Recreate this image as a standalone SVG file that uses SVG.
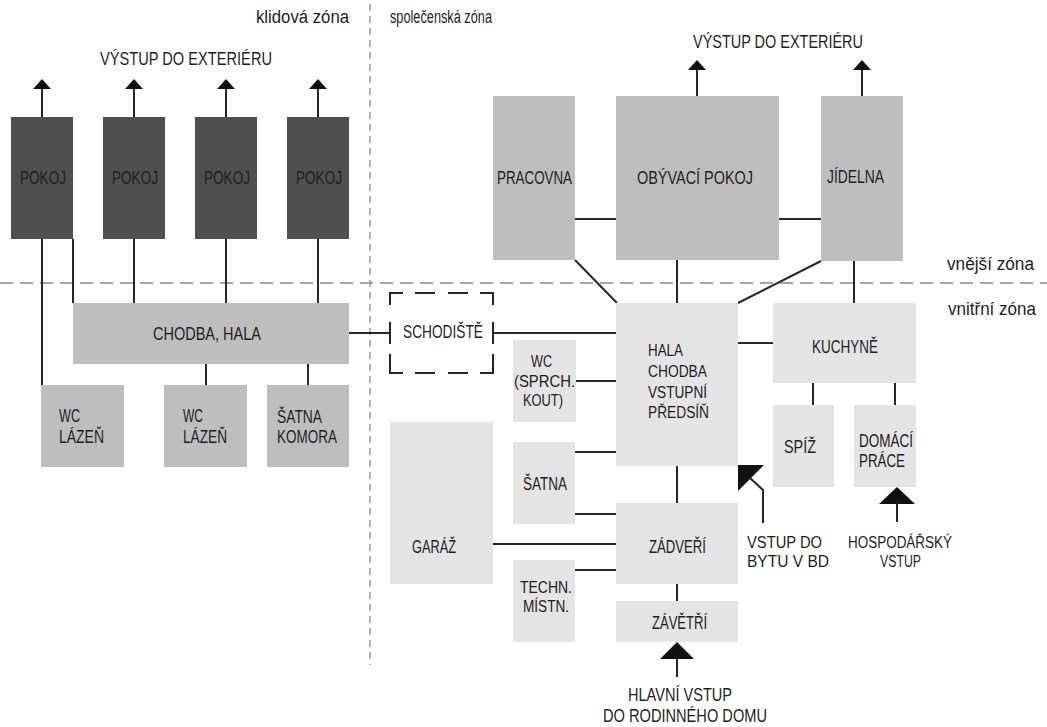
<svg xmlns="http://www.w3.org/2000/svg" width="1047" height="727" viewBox="0 0 1047 727">
<style>
text{font-family:"Liberation Sans",Arial,sans-serif;font-size:18.5px;fill:#1e1e1e}
.z{font-size:18px}
.s{font-size:16px}
.dark{fill:#4f4f4f}
.mid{fill:#bebebe}
.light{fill:#e4e4e4}
.c{stroke:#262626;stroke-width:2;fill:none}
.arr{fill:#111}
.zone{stroke:#a6a6a6;stroke-width:2;stroke-dasharray:13 7;fill:none}
.zonev{stroke:#9a9a9a;stroke-width:1.5;stroke-dasharray:7 5;fill:none}
.dash{stroke:#262626;stroke-width:2;fill:none}
</style>
<rect width="1047" height="727" fill="#fff"/>

<g id="zones">
<line class="zone" x1="0" y1="283" x2="1047" y2="283"/>
<line class="zonev" x1="370" y1="4" x2="370" y2="665"/>
<text class="z" x="256" y="23" textLength="93" lengthAdjust="spacingAndGlyphs">klidová  zóna</text>
<text class="z" x="390" y="23" textLength="102" lengthAdjust="spacingAndGlyphs">společenská  zóna</text>
<text class="z" x="947" y="270" textLength="87" lengthAdjust="spacingAndGlyphs">vnější  zóna</text>
<text class="z" x="948" y="315" textLength="88" lengthAdjust="spacingAndGlyphs">vnitřní  zóna</text>
<text x="100" y="65" textLength="172" lengthAdjust="spacingAndGlyphs">VÝSTUP  DO  EXTERIÉRU</text>
<text x="693" y="48" textLength="170" lengthAdjust="spacingAndGlyphs">VÝSTUP  DO  EXTERIÉRU</text>
</g>

<g id="connectors">
<line class="c" x1="42" y1="88" x2="42" y2="117"/>
<polygon class="arr" points="42,79 51,89 33,89"/>
<line class="c" x1="134" y1="88" x2="134" y2="117"/>
<polygon class="arr" points="134,79 143,89 125,89"/>
<line class="c" x1="226" y1="88" x2="226" y2="117"/>
<polygon class="arr" points="226,79 235,89 217,89"/>
<line class="c" x1="318" y1="88" x2="318" y2="117"/>
<polygon class="arr" points="318,79 327,89 309,89"/>
<line class="c" x1="697" y1="68" x2="697" y2="96"/>
<polygon class="arr" points="697,60 706,70 688,70"/>
<line class="c" x1="862" y1="68" x2="862" y2="96"/>
<polygon class="arr" points="862,60 871,70 853,70"/>
<line class="c" x1="42" y1="239" x2="42" y2="385"/>
<line class="c" x1="73" y1="239" x2="73" y2="303"/>
<line class="c" x1="134" y1="239" x2="134" y2="303"/>
<line class="c" x1="226" y1="239" x2="226" y2="303"/>
<line class="c" x1="318" y1="239" x2="318" y2="303"/>
<line class="c" x1="206" y1="364" x2="206" y2="385"/>
<line class="c" x1="308" y1="364" x2="308" y2="385"/>
<line class="c" x1="349" y1="333" x2="390" y2="333"/>
<line class="c" x1="493" y1="333" x2="616" y2="333"/>
<line class="c" x1="575" y1="219" x2="616" y2="219"/>
<line class="c" x1="779" y1="219" x2="821" y2="219"/>
<line class="c" x1="575" y1="260" x2="617" y2="303"/>
<line class="c" x1="677" y1="260" x2="677" y2="303"/>
<line class="c" x1="821" y1="261" x2="738" y2="303"/>
<line class="c" x1="854" y1="261" x2="854" y2="303"/>
<line class="c" x1="738" y1="343" x2="773" y2="343"/>
<line class="c" x1="813" y1="383" x2="813" y2="405"/>
<line class="c" x1="895" y1="383" x2="895" y2="405"/>
<line class="c" x1="576" y1="381" x2="616" y2="381"/>
<line class="c" x1="575" y1="452" x2="616" y2="452"/>
<line class="c" x1="575" y1="514" x2="616" y2="514"/>
<line class="c" x1="493" y1="544" x2="616" y2="544"/>
<line class="c" x1="575" y1="570" x2="616" y2="570"/>
<line class="c" x1="677" y1="466" x2="677" y2="503"/>
<line class="c" x1="677" y1="584" x2="677" y2="601"/>
<polygon class="arr" points="677,642 694,659 660,659"/>
<line class="c" x1="677" y1="658" x2="677" y2="677"/>
<polygon class="arr" points="738,465 764,465 738,491"/>
<polyline class="c" points="750,478 763,490 763,523"/>
<polygon class="arr" points="897,487 915,504 879,504"/>
<line class="c" x1="897" y1="503" x2="897" y2="522"/>
</g>

<g id="pokoj1"><rect class="dark" x="11" y="117" width="62" height="122"/><text x="20" y="184" textLength="46" lengthAdjust="spacingAndGlyphs">POKOJ</text></g>
<g id="pokoj2"><rect class="dark" x="103" y="117" width="62" height="122"/><text x="112" y="184" textLength="46" lengthAdjust="spacingAndGlyphs">POKOJ</text></g>
<g id="pokoj3"><rect class="dark" x="195" y="117" width="62" height="122"/><text x="204" y="184" textLength="46" lengthAdjust="spacingAndGlyphs">POKOJ</text></g>
<g id="pokoj4"><rect class="dark" x="287" y="117" width="62" height="122"/><text x="296" y="184" textLength="46" lengthAdjust="spacingAndGlyphs">POKOJ</text></g>

<g id="chodba-hala"><rect class="mid" x="73" y="303" width="276" height="61"/><text x="153" y="340" textLength="108" lengthAdjust="spacingAndGlyphs">CHODBA,  HALA</text></g>
<g id="wc-lazen1"><rect class="mid" x="41" y="385" width="83" height="82"/><text x="59" y="422" textLength="21" lengthAdjust="spacingAndGlyphs">WC</text><text x="59" y="443" textLength="45" lengthAdjust="spacingAndGlyphs">LÁZEŇ</text></g>
<g id="wc-lazen2"><rect class="mid" x="164" y="385" width="83" height="82"/><text x="183" y="422" textLength="20" lengthAdjust="spacingAndGlyphs">WC</text><text x="183" y="443" textLength="44" lengthAdjust="spacingAndGlyphs">LÁZEŇ</text></g>
<g id="satna-komora"><rect class="mid" x="267" y="385" width="82" height="82"/><text x="277" y="423" textLength="45" lengthAdjust="spacingAndGlyphs">ŠATNA</text><text x="277" y="443" textLength="60" lengthAdjust="spacingAndGlyphs">KOMORA</text></g>

<g id="schodiste">
<path class="dash" d="M390,305 V293 H403 M415,293 H435 M448,293 H468 M480,293 H493 V305 M390,322 V344 M493,322 V344 M390,354 V373 H403 M415,373 H435 M448,373 H468 M480,373 H493 V354"/>
<text x="403" y="338" textLength="80" lengthAdjust="spacingAndGlyphs">SCHODIŠTĚ</text>
</g>

<g id="pracovna"><rect class="mid" x="493" y="96" width="82" height="164"/><text x="497" y="184" textLength="75" lengthAdjust="spacingAndGlyphs">PRACOVNA</text></g>
<g id="obyvaci-pokoj"><rect class="mid" x="616" y="96" width="163" height="164"/><text x="637" y="184" textLength="116" lengthAdjust="spacingAndGlyphs">OBÝVACÍ  POKOJ</text></g>
<g id="jidelna"><rect class="mid" x="821" y="96" width="82" height="165"/><text x="827" y="183" textLength="57" lengthAdjust="spacingAndGlyphs">JÍDELNA</text></g>

<g id="hala"><rect class="light" x="616" y="303" width="122" height="163"/>
<text class="s" x="648" y="356" textLength="35" lengthAdjust="spacingAndGlyphs">HALA</text>
<text class="s" x="648" y="377" textLength="59" lengthAdjust="spacingAndGlyphs">CHODBA</text>
<text class="s" x="648" y="398" textLength="59" lengthAdjust="spacingAndGlyphs">VSTUPNÍ</text>
<text class="s" x="648" y="418" textLength="61" lengthAdjust="spacingAndGlyphs">PŘEDSÍŇ</text></g>
<g id="kuchyne"><rect class="light" x="773" y="303" width="143" height="80"/><text x="812" y="353" textLength="66" lengthAdjust="spacingAndGlyphs">KUCHYNĚ</text></g>
<g id="spiz"><rect class="light" x="773" y="405" width="61" height="82"/><text x="784" y="453" textLength="32" lengthAdjust="spacingAndGlyphs">SPÍŽ</text></g>
<g id="domaci-prace"><rect class="light" x="854" y="405" width="62" height="82"/><text x="859" y="447" textLength="54" lengthAdjust="spacingAndGlyphs">DOMÁCÍ</text><text x="859" y="467" textLength="46" lengthAdjust="spacingAndGlyphs">PRÁCE</text></g>
<g id="wc-sprch"><rect class="light" x="513" y="340" width="63" height="82"/>
<text class="s" x="531" y="367" textLength="21" lengthAdjust="spacingAndGlyphs">WC</text>
<text class="s" x="514" y="387" textLength="61" lengthAdjust="spacingAndGlyphs">(SPRCH.</text>
<text class="s" x="523" y="406" textLength="40" lengthAdjust="spacingAndGlyphs">KOUT)</text></g>
<g id="satna"><rect class="light" x="513" y="442" width="62" height="82"/><text x="523" y="490" textLength="44" lengthAdjust="spacingAndGlyphs">ŠATNA</text></g>
<g id="garaz"><rect class="light" x="390" y="422" width="103" height="162"/><text x="412" y="553" textLength="44" lengthAdjust="spacingAndGlyphs">GARÁŽ</text></g>
<g id="zadveri"><rect class="light" x="616" y="503" width="122" height="81"/><text x="649" y="553" textLength="57" lengthAdjust="spacingAndGlyphs">ZÁDVEŘÍ</text></g>
<g id="techn-mistn"><rect class="light" x="513" y="560" width="62" height="82"/><text class="s" x="520" y="593" textLength="52" lengthAdjust="spacingAndGlyphs">TECHN.</text><text class="s" x="523" y="612" textLength="46" lengthAdjust="spacingAndGlyphs">MÍSTN.</text></g>
<g id="zavetri"><rect class="light" x="616" y="601" width="122" height="41"/><text x="652" y="629" textLength="55" lengthAdjust="spacingAndGlyphs">ZÁVĚTŘÍ</text></g>

<g id="vstup-byt"><text class="s" x="747" y="548" textLength="75" lengthAdjust="spacingAndGlyphs">VSTUP  DO</text><text class="s" x="747" y="567" textLength="82" lengthAdjust="spacingAndGlyphs">BYTU  V  BD</text></g>
<g id="hospodarsky-vstup"><text class="s" x="848" y="548" textLength="104" lengthAdjust="spacingAndGlyphs">HOSPODÁŘSKÝ</text><text class="s" x="880" y="567" textLength="41" lengthAdjust="spacingAndGlyphs">VSTUP</text></g>
<g id="hlavni-vstup"><text x="628" y="701" textLength="104" lengthAdjust="spacingAndGlyphs">HLAVNÍ  VSTUP</text><text x="603" y="722" textLength="164" lengthAdjust="spacingAndGlyphs">DO  RODINNÉHO  DOMU</text></g>
</svg>
